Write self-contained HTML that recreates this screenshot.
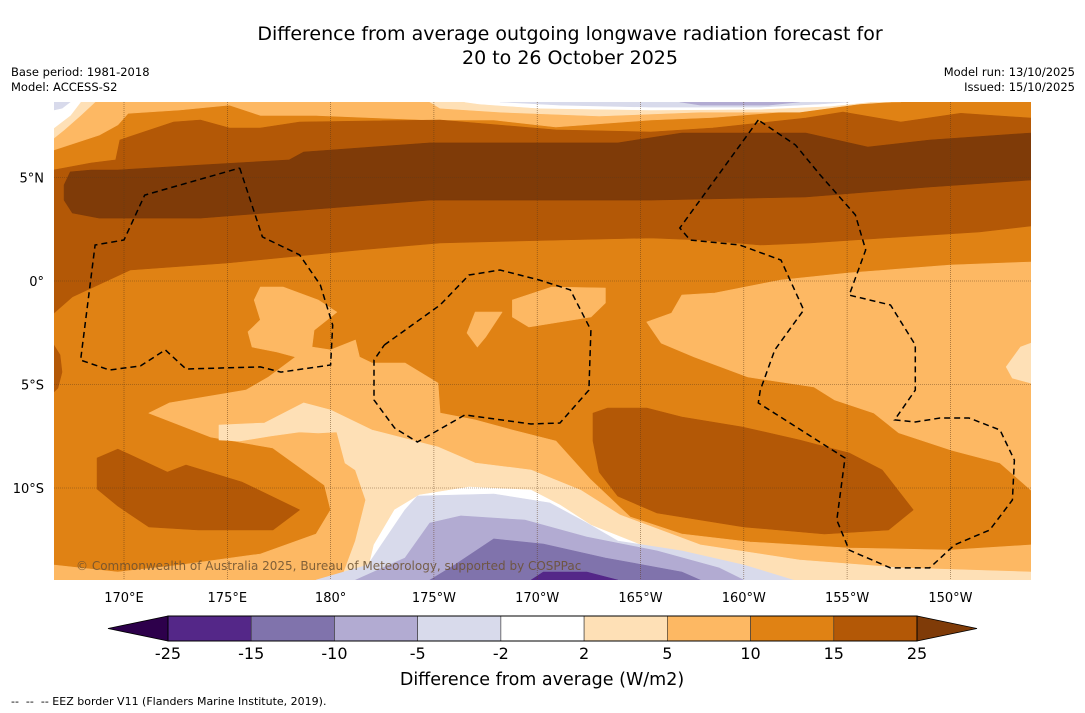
<!DOCTYPE html>
<html><head><meta charset="utf-8"><style>
html,body{margin:0;padding:0;background:#fff;}
body{width:1085px;height:713px;position:relative;overflow:hidden;font-family:"DejaVu Sans","Liberation Sans",sans-serif;}
.t{position:absolute;color:#000;white-space:nowrap;}
</style></head><body>
<div class="t" style="left:170px;top:22px;width:800px;text-align:center;font-size:19px;line-height:24px;">Difference from average outgoing longwave radiation forecast for<br>20 to 26 October 2025</div>
<div class="t" style="left:11px;top:65px;font-size:11.5px;line-height:15px;">Base period: 1981-2018<br>Model: ACCESS-S2</div>
<div class="t" style="right:10px;top:65px;font-size:11.5px;line-height:15px;text-align:right;">Model run: 13/10/2025<br>Issued: 15/10/2025</div>
<svg id="chart" width="1085" height="713" style="position:absolute;left:0;top:0" xmlns="http://www.w3.org/2000/svg"></svg>
<div class="t" style="left:11px;top:695px;font-size:11px;">-- &nbsp;-- &nbsp;-- EEZ border V11 (Flanders Marine Institute, 2019).</div>
<script>
// ---- data (lon in degrees east 0-360, lat in degrees) ----
const lonTicks=[170,175,180,185,190,195,200,205,210];
const lonTickLabels=["170°E","175°E","180°","175°W","170°W","165°W","160°W","155°W","150°W"];
const latTicks=[5,0,-5,-10];
const latTickLabels=["5°N","0°","5°S","10°S"];
const cbarLevels=[-25,-15,-10,-5,-2,2,5,10,15,25];
const cbarColors=["#542788","#8073ac","#b2abd2","#d8daeb","#ffffff","#fee0b6","#fdb863","#e08214","#b35806"];
const cbarLow="#2d004b", cbarHigh="#7f3b08";
// contour regions: [value-band color index, polygon]
const topLight=[[166.6,8.65],[207.6,8.65],[204.8,8.6],[203.0,8.26],[198.5,7.9],[195.5,7.78],[190.9,7.44],[187.9,7.78],[184.8,7.78],[179.3,8.0],[176.6,8.0],[175.1,8.5],[172.7,8.26],[170.2,8.1],[169.7,7.54],[168.8,7.05],[166.6,6.33]];
const topPaleMid=[[184.8,8.65],[207.1,8.65],[205.6,8.55],[202.7,8.16],[197.9,8.16],[193.0,7.97],[188.2,8.16],[185.3,8.35]];
const topPaleLeft=[[166.6,8.65],[168.6,8.65],[167.9,8.0],[167.1,7.3],[166.6,6.9]];
const topWhiteMid=[[186.5,8.65],[206.1,8.65],[204.2,8.45],[200.8,8.3],[195.5,8.26],[190.1,8.35],[187.2,8.55]];
const topWhiteLeft=[[166.6,8.65],[167.9,8.65],[167.4,8.0],[166.6,7.39]];
const topLavMid=[[188.2,8.65],[205.1,8.65],[203.7,8.55],[200.8,8.4],[195.5,8.4],[191.1,8.5]];
const topLavLeft=[[166.6,8.65],[167.4,8.65],[167.0,8.35],[166.6,8.26]];
const topPurple=[[196.9,8.65],[202.7,8.65],[201.2,8.5],[197.9,8.5]];
const brownBand=[[166.6,5.36],[168.4,5.7],[169.6,5.85],[169.8,6.81],[172.4,7.68],[173.7,7.78],[175.1,7.39],[176.6,7.39],[178.5,7.68],[185.3,7.78],[190.9,7.3],[195.5,7.2],[198.5,7.39],[203.0,7.87],[204.8,8.16],[207.6,7.68],[210.5,8.1],[213.9,7.87],[213.9,2.66],[211.4,2.37],[207.6,2.13],[203.2,1.84],[200.8,1.74],[197.9,1.98],[195.5,2.08],[191.1,1.98],[185.3,1.84],[181.4,1.5],[175.0,0.87],[170.3,0.53],[167.5,-0.77],[166.6,-1.55]];
const darkBand=[[167.4,5.27],[168.4,5.36],[169.7,5.36],[173.7,5.6],[178.0,5.85],[178.7,6.23],[184.8,6.67],[193.9,6.67],[197.0,7.15],[203.0,7.15],[206.0,6.47],[209.0,6.81],[213.9,7.15],[213.9,4.88],[209.0,4.54],[203.0,4.06],[195.5,3.91],[184.8,3.91],[180.5,3.57],[173.7,3.04],[168.8,3.04],[167.5,3.29],[167.1,3.91],[167.1,4.64]];
const leftBulge=[[166.6,-3.09],[166.9,-3.57],[167.0,-4.4],[166.8,-5.17],[166.6,-5.36]];
const lightMain=[[171.2,-6.38],[174.2,-7.54],[177.2,-8.07],[179.7,-9.86],[180.0,-11.06],[179.3,-12.22],[176.6,-13.19],[172.7,-13.72],[169.7,-14.06],[166.6,-13.72],[166.6,-14.45],[213.9,-14.45],[213.9,-12.75],[210.0,-13.0],[205.1,-12.9],[200.3,-12.61],[197.0,-12.22],[194.5,-11.4],[192.6,-9.61],[190.9,-7.73],[188.8,-7.2],[187.0,-6.71],[185.3,-6.38],[185.2,-4.93],[183.6,-3.96],[182.0,-3.96],[181.4,-3.67],[181.2,-2.85],[180.0,-3.33],[179.1,-3.19],[179.2,-2.37],[180.3,-1.5],[179.4,-0.92],[177.7,-0.29],[176.6,-0.29],[176.3,-0.92],[176.6,-1.88],[176.0,-2.46],[176.2,-3.19],[177.4,-3.43],[178.3,-3.67],[177.0,-4.64],[175.9,-5.27],[172.2,-5.89]];
const lightC=[[195.3,-1.98],[196.5,-1.55],[197.0,-0.68],[198.6,-0.58],[201.8,0.05],[205.1,0.39],[210.0,0.77],[213.9,0.92],[213.9,-10.1],[212.4,-8.79],[210.0,-8.16],[207.5,-7.34],[206.3,-6.38],[204.4,-5.75],[203.4,-5.12],[200.2,-4.64],[197.6,-3.67],[196.0,-3.0]];
const lightB1=[[187.0,-1.5],[188.3,-1.5],[187.5,-2.71],[187.1,-3.19],[186.6,-2.51]];
const lightB2=[[188.8,-0.92],[190.7,-0.29],[193.3,-0.34],[193.3,-1.06],[192.6,-1.74],[189.6,-2.22],[188.8,-1.74]];
const paleRight=[[212.7,-4.15],[213.4,-3.19],[213.9,-3.0],[213.9,-4.93],[213.0,-4.69]];
const paleMain=[[174.6,-6.96],[176.8,-6.86],[178.7,-5.89],[180.0,-6.23],[182.0,-7.2],[185.2,-8.02],[187.0,-8.79],[189.7,-9.13],[192.1,-10.1],[194.0,-11.3],[197.9,-12.75],[202.7,-13.48],[207.6,-13.86],[213.9,-14.06],[213.9,-14.45],[180.5,-14.45],[181.2,-12.56],[181.7,-10.58],[181.2,-9.13],[180.7,-8.79],[180.3,-7.29],[179.4,-7.34],[178.5,-7.29],[177.1,-7.49],[175.6,-7.73],[174.6,-7.68]];
const whiteMain=[[181.7,-14.45],[182.1,-12.75],[183.1,-11.06],[184.3,-10.34],[186.7,-9.95],[189.7,-10.1],[191.1,-10.82],[192.6,-11.79],[195.0,-12.75],[197.9,-13.48],[199.8,-13.96],[202.2,-14.45]];
const lavMain=[[179.3,-14.45],[181.8,-13.72],[183.6,-11.06],[184.2,-10.39],[187.9,-10.29],[190.6,-10.72],[192.4,-11.69],[193.9,-12.56],[197.0,-13.04],[200.0,-13.72],[202.4,-14.45]];
const purpleMain=[[181.2,-14.45],[183.6,-13.38],[184.8,-11.69],[186.3,-11.35],[189.4,-11.55],[192.4,-12.37],[195.8,-13.04],[198.8,-13.86],[200.0,-14.45]];
const deepMain=[[184.8,-14.45],[186.0,-13.72],[187.9,-12.46],[190.3,-12.71],[193.3,-13.38],[197.0,-14.06],[197.9,-14.45]];
const deepestMain=[[189.7,-14.45],[190.3,-14.06],[192.4,-14.06],[193.9,-14.45]];
const blobLL=[[168.7,-8.55],[169.7,-8.12],[172.1,-9.23],[173.0,-8.89],[175.7,-9.71],[178.5,-11.06],[177.2,-12.03],[173.6,-12.03],[171.2,-11.88],[169.7,-10.87],[168.7,-10.05]];
const blobLR=[[192.7,-6.38],[193.4,-6.14],[195.3,-6.14],[197.0,-6.57],[199.9,-7.05],[202.7,-7.68],[205.1,-8.31],[206.7,-9.13],[208.2,-11.06],[207.0,-12.03],[203.9,-12.22],[200.0,-11.88],[195.8,-11.21],[193.9,-10.39],[193.0,-9.23],[192.7,-7.73]];
// EEZ borders
const eezWest=[[175.6,5.46],[176.7,2.13],[178.5,1.26],[179.5,-0.19],[180.1,-2.13],[180.0,-4.06],[177.6,-4.4],[176.6,-4.15],[173.0,-4.25],[172.0,-3.33],[170.8,-4.1],[169.3,-4.3],[167.9,-3.82],[168.6,1.74],[170.0,1.98],[171.0,4.15],[175.6,5.46]];
const eezMid=[[182.6,-3.09],[185.3,-1.16],[186.7,0.29],[188.2,0.53],[190.1,0.05],[191.6,-0.43],[192.6,-2.37],[192.5,-5.27],[191.1,-6.86],[189.7,-6.91],[186.5,-6.47],[184.2,-7.78],[183.1,-7.1],[182.1,-5.75],[182.1,-3.82],[182.6,-3.09]];
const eezEast=[[200.7,7.78],[196.9,2.56],[197.4,1.98],[199.8,1.74],[201.8,1.01],[202.9,-1.4],[201.5,-3.33],[200.8,-5.27],[200.7,-5.89],[204.9,-8.55],[204.5,-11.55],[205.1,-13.0],[207.1,-13.86],[209.0,-13.86],[210.2,-12.75],[211.9,-12.03],[213.0,-10.58],[213.1,-8.65],[212.4,-7.2],[210.9,-6.62],[209.5,-6.62],[208.3,-6.81],[207.3,-6.71],[208.3,-5.27],[208.3,-3.09],[207.1,-1.16],[205.1,-0.68],[205.9,1.5],[205.4,3.19],[203.7,5.12],[202.5,6.57],[200.7,7.78]];

// ---- axes ----
const X0=54,X1=1031,Y0=102,Y1=580;
function xs(lon){return 124+(lon-170)*20.66;}
function ys(lat){return 281-lat*20.7;}
const NS="http://www.w3.org/2000/svg";
const svg=document.getElementById('chart');
function mk(tag,attrs,parent){const e=document.createElementNS(NS,tag);for(const k in attrs)e.setAttribute(k,attrs[k]);(parent||svg).appendChild(e);return e;}
function pts(arr){return arr.map(p=>xs(p[0]).toFixed(1)+','+ys(p[1]).toFixed(1)).join(' ');}

mk('clipPath',{id:'mapclip'}).appendChild(Object.assign(document.createElementNS(NS,'rect'),{}));
const cr=svg.querySelector('#mapclip rect');
cr.setAttribute('x',X0);cr.setAttribute('y',Y0);cr.setAttribute('width',X1-X0);cr.setAttribute('height',Y1-Y0);
const g=mk('g',{'clip-path':'url(#mapclip)'});


const bg=mk('rect',{x:X0,y:Y0,width:X1-X0,height:Y1-Y0,fill:cbarColors[7]},g);



const layers=[
 ['top-light-band',topLight,6],['top-pale-band',topPaleMid,5],['top-pale-left',topPaleLeft,5],
 ['top-white-band',topWhiteMid,4],['top-white-left',topWhiteLeft,4],['top-lavender-band',topLavMid,3],
 ['top-lavender-left',topLavLeft,3],['top-purple-band',topPurple,2],
 ['brown-band',brownBand,8],['dark-band',darkBand,-1],['left-bulge',leftBulge,8],
 ['light-main-region',lightMain,6],['light-east-region',lightC,6],['light-patch-1',lightB1,6],['light-patch-2',lightB2,6],
 ['pale-east-patch',paleRight,5],['pale-main-region',paleMain,5],['white-region',whiteMain,4],
 ['lavender-region',lavMain,3],['purple-region',purpleMain,2],['deep-purple-region',deepMain,1],['deepest-purple-region',deepestMain,0],
 ['brown-blob-southwest',blobLL,8],['brown-blob-southeast',blobLR,8]
];
layers.forEach(L=>{
  const col=L[2]<0?cbarHigh:cbarColors[L[2]];
  const p=mk('polygon',{points:pts(L[1]),fill:col,stroke:col,'stroke-width':0.6,'stroke-linejoin':'round'},g);
  
  
});
// gridlines
lonTicks.forEach((lon,i)=>{
  const l=mk('line',{x1:xs(lon),x2:xs(lon),y1:Y0,y2:Y1,stroke:'#5a3a1a','stroke-width':0.6,'stroke-dasharray':'1,1',opacity:0.8},g);
  
  
});
latTicks.forEach(lat=>{
  const l=mk('line',{x1:X0,x2:X1,y1:ys(lat),y2:ys(lat),stroke:'#5a3a1a','stroke-width':0.6,'stroke-dasharray':'1,1',opacity:0.8},g);
  
  
});
// EEZ borders
[['eez-border-west',eezWest],['eez-border-central',eezMid],['eez-border-east',eezEast]].forEach(E=>{
  const l=mk('polyline',{points:pts(E[1]),fill:'none',stroke:'#000','stroke-width':1.5,'stroke-dasharray':'6,4'},g);
  
  
});
const cp=mk('text',{x:76,y:570,'font-size':12,fill:'#6b5030','font-family':'DejaVu Sans, Liberation Sans, sans-serif','fill-opacity':0.85},g);
cp.textContent='© Commonwealth of Australia 2025, Bureau of Meteorology, supported by COSPPac';



// tick labels
lonTicks.forEach((lon,i)=>{
  const t=mk('text',{x:xs(lon),y:602,'text-anchor':'middle','font-size':13,'font-family':'DejaVu Sans, Liberation Sans, sans-serif'});
  t.textContent=lonTickLabels[i];
  
  
});
latTicks.forEach((lat,i)=>{
  const t=mk('text',{x:44,y:ys(lat)+5,'text-anchor':'end','font-size':13,'font-family':'DejaVu Sans, Liberation Sans, sans-serif'});
  t.textContent=latTickLabels[i];
  
  
});

// colorbar
const CB0=168,CB1=917,CBY=616,CBH=25;
const bw=(CB1-CB0)/cbarColors.length;
function cbx(i){return CB0+i*bw;}
const lt=mk('polygon',{points:`108,${CBY+CBH/2} ${CB0},${CBY} ${CB0},${CBY+CBH}`,fill:cbarLow,stroke:'#000','stroke-width':0.8});


const rt=mk('polygon',{points:`977,${CBY+CBH/2} ${CB1},${CBY} ${CB1},${CBY+CBH}`,fill:cbarHigh,stroke:'#000','stroke-width':0.8});


cbarColors.forEach((c,i)=>{
  const r=mk('rect',{x:cbx(i),y:CBY,width:bw,height:CBH,fill:c,stroke:'#333','stroke-width':0.6});
  
  
});
const fr=mk('rect',{x:CB0,y:CBY,width:CB1-CB0,height:CBH,fill:'none',stroke:'#000','stroke-width':1});


cbarLevels.forEach((v,i)=>{
  const t=mk('text',{x:cbx(i),y:659,'text-anchor':'middle','font-size':16,'font-family':'DejaVu Sans, Liberation Sans, sans-serif'});
  t.textContent=String(v);
  
  
});
const ct=mk('text',{x:542,y:685,'text-anchor':'middle','font-size':17.5,'font-family':'DejaVu Sans, Liberation Sans, sans-serif'});
ct.textContent='Difference from average (W/m2)';


</script>
</body></html>
